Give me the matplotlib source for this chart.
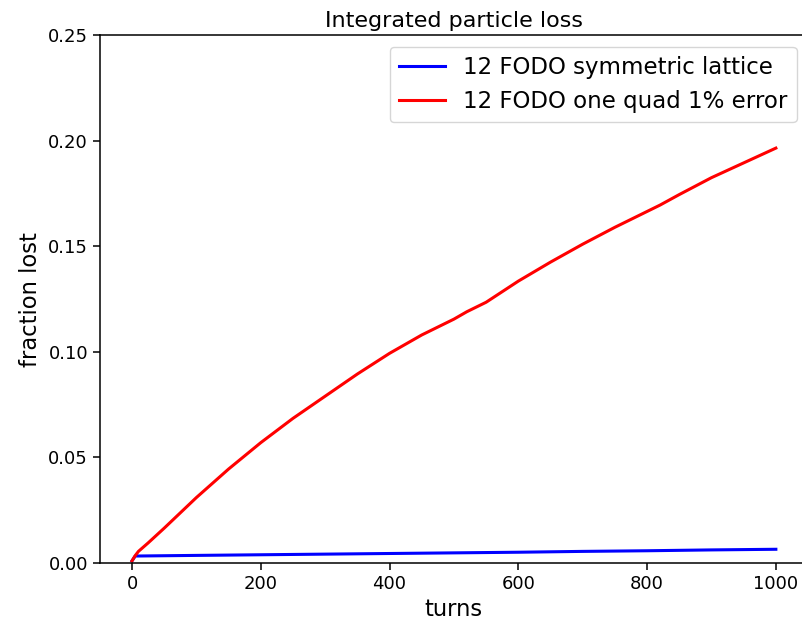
import matplotlib
matplotlib.use("Agg")
import matplotlib.pyplot as plt
import numpy as np

# turns and integrated fraction lost
turns_sym = [0, 5, 100, 200, 300, 400, 500, 600, 700, 800, 900, 1000]
loss_sym = [0.001, 0.0033, 0.0036, 0.0039, 0.0042, 0.0045, 0.0048, 0.0051, 0.0055, 0.0058, 0.0062, 0.0065]

turns_err = [0, 5, 10, 25, 50, 100, 150, 200, 250, 300, 350, 400, 450, 500, 520, 550,
             600, 650, 700, 750, 800, 820, 850, 900, 950, 1000]
loss_err = [0.001, 0.0035, 0.0055, 0.0095, 0.0165, 0.031, 0.0445, 0.057, 0.0685, 0.079,
            0.0895, 0.0993, 0.108, 0.1155, 0.119, 0.1235, 0.1335, 0.1425, 0.151, 0.159,
            0.1665, 0.1695, 0.1745, 0.1825, 0.1895, 0.1965]

fig = plt.figure(figsize=(8.03, 6.21), dpi=100)
ax = fig.add_axes([0.1243, 0.0934, 0.882, 0.850])

ax.plot(turns_sym, loss_sym, color="blue", lw=2.2, label="12 FODO symmetric lattice")
ax.plot(turns_err, loss_err, color="red", lw=2.2, label="12 FODO one quad 1% error")

ax.set_ylim(0, 0.25)
ax.set_xlim(-50, 1050)
ax.set_xticks([0, 200, 400, 600, 800, 1000])
ax.set_yticks([0.0, 0.05, 0.10, 0.15, 0.20, 0.25])
ax.tick_params(labelsize=13, length=5, width=1.1)
for s in ax.spines.values():
    s.set_linewidth(1.1)
# the reference is cropped just before the right spine
ax.spines["right"].set_visible(False)

ax.set_title("Integrated particle loss", fontsize=16)
ax.set_xlabel("turns", fontsize=16.3)
ax.set_ylabel("fraction lost", fontsize=16.3)
ax.legend(loc="upper right", fontsize=16.5)

plt.savefig("out.png", dpi=100)
